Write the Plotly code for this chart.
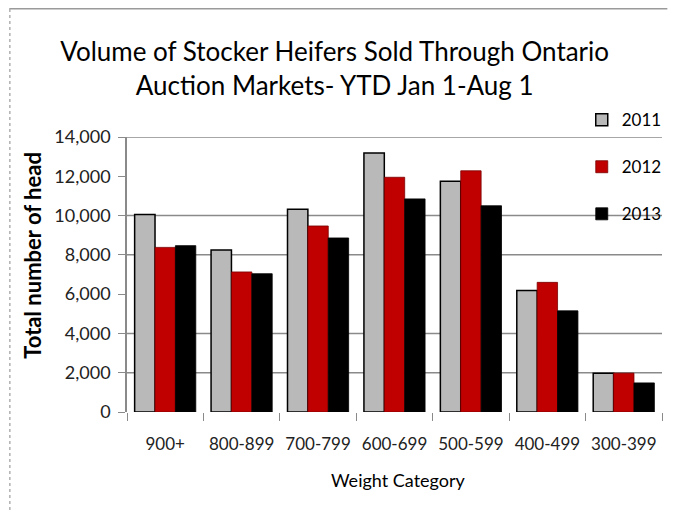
import plotly.graph_objects as go

categories = ['900+', '800-899', '700-799', '600-699', '500-599', '400-499', '300-399']
heifers_2011 = [10050, 8250, 10320, 13180, 11750, 6190, 1970]
heifers_2012 = [8380, 7130, 9470, 11950, 12280, 6600, 1980]
heifers_2013 = [8470, 7040, 8860, 10850, 10500, 5150, 1480]

y_ticks = [0, 2000, 4000, 6000, 8000, 10000, 12000, 14000]
y_tick_text = ['0', '2,000', '4,000', '6,000', '8,000', '10,000', '12,000', '14,000']
# gridlines that show in the original picture
grid_levels = [2000, 4000, 8000, 10000, 14000]

font_main = 'Lato, Calibri, Carlito, sans-serif'
grid_grey = '#8a8a8a'

fig = go.Figure()
fig.add_trace(go.Bar(x=categories, y=heifers_2011, name='2011', legendgroup='a',
                     marker=dict(color='#b9b9b9', line=dict(color='#000000', width=1.5))))
fig.add_trace(go.Bar(x=categories, y=heifers_2012, name='2012', legendgroup='b',
                     marker=dict(color='#c00000', line=dict(color='#7a0000', width=0.8))))
fig.add_trace(go.Bar(x=categories, y=heifers_2013, name='2013', legendgroup='c',
                     marker=dict(color='#000000', line=dict(color='#000000', width=0.8))))

for g in grid_levels:
    fig.add_shape(type='line', xref='paper', yref='y', x0=0, x1=1, y0=g, y1=g,
                  line=dict(color=grid_grey, width=1.5), layer='below')

# chart border, top and left edges
fig.add_shape(type='line', xref='paper', yref='paper', x0=-0.22, x1=1.01, y0=1.466, y1=1.466,
              line=dict(color='#9a9a9a', width=1.5))
fig.add_shape(type='line', xref='paper', yref='paper', x0=-0.219, x1=-0.219, y0=-0.4, y1=1.466,
              line=dict(color='#b0b0b0', width=1.5, dash='dot'))

fig.add_annotation(text='<b>Total number of head</b>', xref='paper', yref='paper',
                   x=-0.176, y=0.571, xanchor='center', yanchor='middle',
                   textangle=-90, showarrow=False,
                   font=dict(size=22, family=font_main, color='#000000'))
fig.add_annotation(text='Weight Category', xref='paper', yref='paper',
                   x=0.507, y=-0.247, xanchor='center', yanchor='middle', showarrow=False,
                   font=dict(size=18, family=font_main, color='#000000'))

fig.update_layout(
    width=660, height=504,
    margin=dict(l=119, r=1, t=129, b=100),
    paper_bgcolor='white', plot_bgcolor='white',
    font=dict(family=font_main, color='#111111'),
    title=dict(text='Volume of Stocker Heifers Sold Through Ontario<br>Auction Markets- YTD Jan 1-Aug 1',
               x=0.495, xanchor='center', y=0.895, yanchor='middle',
               font=dict(size=26, family=font_main, color='#000000')),
    barmode='group', bargap=0.2, bargroupgap=0,
    showlegend=True,
    legend=dict(x=0.85, y=1.127, xanchor='left', yanchor='top', tracegroupgap=22,
                font=dict(size=17, family=font_main, color='#000000'),
                bgcolor='rgba(0,0,0,0)', itemwidth=30),
    xaxis=dict(tickfont=dict(size=17, family=font_main, color='#222222'),
               ticks='outside', tickson='boundaries', ticklen=8, tickcolor=grid_grey,
               showline=False, showgrid=False, ticklabelstandoff=20),
    yaxis=dict(range=[0, 14000], tickvals=y_ticks, ticktext=y_tick_text,
               tickfont=dict(size=18, family=font_main, color='#222222'),
               ticks='outside', ticklen=7, tickcolor=grid_grey,
               showline=True, linecolor=grid_grey, linewidth=1.5,
               showgrid=False, zeroline=False, ticklabelstandoff=4),
)

fig.write_html('out.html')
